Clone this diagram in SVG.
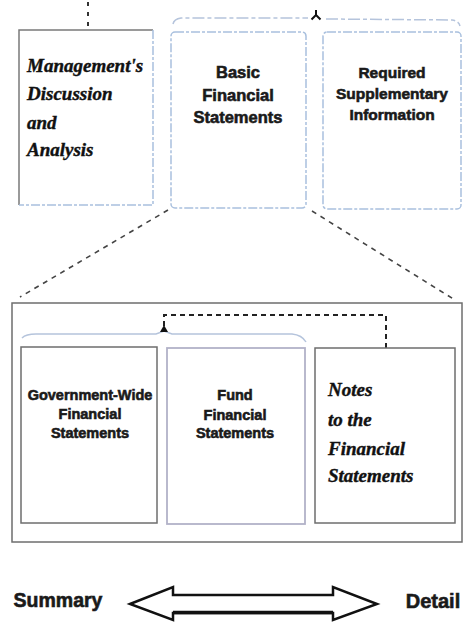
<svg xmlns="http://www.w3.org/2000/svg" width="465" height="622" viewBox="0 0 465 622">
  <style>
    .sans { font-family: "Liberation Sans", Arial, sans-serif; font-weight: bold; fill: #1a1a1a; stroke: #1a1a1a; stroke-width: 0.6; text-anchor: middle; }
    .script { font-family: "Liberation Serif", "DejaVu Serif", serif; font-weight: bold; font-style: italic; fill: #111; stroke: #111; stroke-width: 0.4; }
    .grayBox { fill: none; stroke: #6e6e6e; stroke-width: 1.5; }
    .blueBox { fill: none; stroke: #a9c0de; stroke-width: 1.5; stroke-dasharray: 9 2 3 2; }
    .fundBox { fill: none; stroke: #b2b2c8; stroke-width: 1.8; }
    .dash { fill: none; stroke: #222; stroke-width: 2; stroke-dasharray: 5 4; }
    .diag { fill: none; stroke: #444; stroke-width: 1.6; stroke-dasharray: 5 5; }
    .bracket { fill: none; stroke: #b5c4dc; stroke-width: 1.5; }
  </style>

  <rect width="465" height="622" fill="#ffffff"/>

  <!-- connectors -->
  <g id="connectors">
    <!-- link into MD&A from above -->
    <line x1="88" y1="2" x2="88" y2="28" stroke="#333" stroke-width="2" stroke-dasharray="4 6"/>
    <!-- brace over basic statements and RSI -->
    <path class="bracket" d="M173 24 Q174 19 181 18 L308 18 M326 19 L452 20 Q459 21 460 26" stroke-dasharray="12 3 4 3"/>
    <path d="M316 10 L316 15 M316 15 L311.5 19.5 M316 15 L320.5 19.5" fill="none" stroke="#111" stroke-width="2"/>
    <!-- zoom lines from basic statements to the detail panel -->
    <line class="diag" x1="168" y1="210" x2="20" y2="297"/>
    <line class="diag" x1="312" y1="211" x2="455" y2="300" stroke="#777"/>
    <!-- brace over government-wide and fund statements -->
    <path class="bracket" d="M22 338 Q26 334 36 334 L156 334 L164 331 L172 334 L292 334 Q302 335 306 342" stroke="#c0c4d4"/>
    <!-- dashed link from the brace to the notes -->
    <path class="dash" d="M164 326 L164 315 L386 315 L386 348"/>
    <polygon points="164,325 160,332 168,332" fill="#111"/>
  </g>

  <!-- top row -->
  <g id="mdna">
    <path d="M153 30 L19 30 L19 205" fill="none" stroke="#7a7a7a" stroke-width="1.5"/>
    <path d="M153 30 L153 205 L19 205" fill="none" stroke="#a9c0de" stroke-width="1.5" stroke-dasharray="9 2 3 2"/>
    <text class="script" x="27" y="72" font-size="19">Management's</text>
    <text class="script" x="27" y="100" font-size="19">Discussion</text>
    <text class="script" x="27" y="129" font-size="19">and</text>
    <text class="script" x="27" y="156" font-size="19">Analysis</text>
  </g>

  <g id="basic">
    <rect class="blueBox" x="171" y="32" width="135" height="176" rx="4"/>
    <text class="sans" x="238" y="78" font-size="16.5">Basic</text>
    <text class="sans" x="238" y="101" font-size="16.5">Financial</text>
    <text class="sans" x="238" y="123" font-size="16.5">Statements</text>
  </g>

  <g id="rsi">
    <rect class="blueBox" x="323" y="32" width="138" height="177" rx="4"/>
    <text class="sans" x="392" y="78" font-size="15.5">Required</text>
    <text class="sans" x="392" y="99" font-size="15.5">Supplementary</text>
    <text class="sans" x="392" y="120" font-size="15.5">Information</text>
  </g>

  <!-- detail panel -->
  <g id="panel">
    <rect class="grayBox" x="12" y="303" width="450" height="239" stroke="#7c7c7c"/>
  </g>

  <g id="govwide">
    <rect class="grayBox" x="21" y="347" width="136" height="176"/>
    <text class="sans" x="90" y="400" font-size="14.5">Government-Wide</text>
    <text class="sans" x="90" y="419" font-size="14.5">Financial</text>
    <text class="sans" x="90" y="438" font-size="14.5">Statements</text>
  </g>

  <g id="fund">
    <rect class="fundBox" x="167" y="348" width="138" height="176"/>
    <text class="sans" x="235" y="400" font-size="14.5">Fund</text>
    <text class="sans" x="235" y="420" font-size="14.5">Financial</text>
    <text class="sans" x="235" y="438" font-size="14.5">Statements</text>
  </g>

  <g id="notes">
    <rect class="grayBox" x="315" y="348" width="140" height="175" stroke="#5a5a5a"/>
    <text class="script" x="328" y="396" font-size="19">Notes</text>
    <text class="script" x="328" y="426" font-size="19">to the</text>
    <text class="script" x="328" y="455" font-size="19">Financial</text>
    <text class="script" x="328" y="482" font-size="19">Statements</text>
  </g>

  <!-- summary / detail scale -->
  <g id="scale">
    <text class="sans" x="58" y="607" font-size="19.5" stroke-width="0.8">Summary</text>
    <text class="sans" x="433" y="608" font-size="20" stroke-width="0.8">Detail</text>
    <polygon points="130,604 173,587 173,595 333,595 333,587 377,604 333,620 333,613 173,613 173,620" fill="#fff" stroke="#111" stroke-width="2.5" stroke-linejoin="miter"/>
    <line x1="173" y1="612.5" x2="333" y2="612.5" stroke="#111" stroke-width="3.5"/>
  </g>
</svg>
